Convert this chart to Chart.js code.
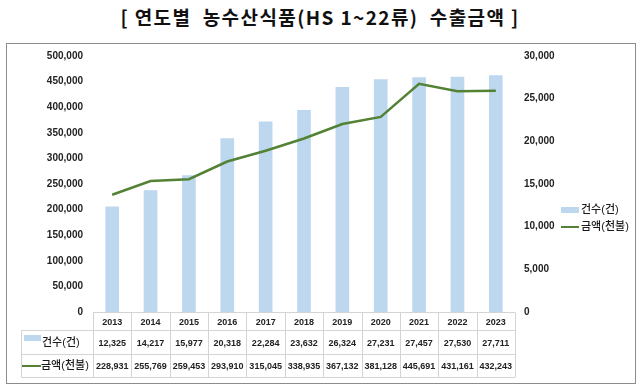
<!DOCTYPE html>
<html>
<head>
<meta charset="utf-8">
<script src="https://cdn.jsdelivr.net/npm/chart.js@4.4.1/dist/chart.umd.min.js"></script>
<style>
  body { margin: 0; background: #fff; }
  #title { position: absolute; left: 0; top: 3px; width: 640px; text-align: center;
           font: bold 19px "Noto Sans CJK KR", sans-serif; letter-spacing: 1.4px;
           white-space: pre; color: #111; }
  #box { position: absolute; left: 6px; top: 43px; width: 630px; height: 341px;
         box-sizing: border-box; border: 1px solid #8c8c8c; }
  canvas { position: absolute; left: 0; top: 0; }
</style>
</head>
<body>
<div id="title">[ 연도별  농수산식품(HS 1~22류)  수출금액 ]</div>
<div id="box"></div>
<canvas id="chart" width="640" height="388"></canvas>
<script>
// data
var years = ['2013', '2014', '2015', '2016', '2017', '2018', '2019', '2020', '2021', '2022', '2023'];
var counts = [12325, 14217, 15977, 20318, 22284, 23632, 26324, 27231, 27457, 27530, 27711];
var amounts = [228931, 255769, 259453, 293910, 315045, 338935, 367132, 381128, 445691, 431161, 432243];
var countLabel = '건수(건)';
var amountLabel = '금액(천불)';

// axis ranges
var amountMax = 500000, amountStep = 50000;
var countMax = 30000, countStep = 5000;

var BAR = '#bdd7ee';
var LINE = '#548235';
var FONT = '"Liberation Sans", "Noto Sans CJK KR", sans-serif';

function fmt(v) {
  return Number(v).toLocaleString('en-US');
}

// data table under the plot + legend on the right
var tablePlugin = {
  id: 'dataTable',
  afterDraw: function(chart) {
    var ctx = chart.ctx;
    var xs = chart.scales.x;
    var area = chart.chartArea;
    var colW = (area.right - area.left) / years.length;
    var top = Math.round(area.bottom) + 0.5;
    var r1 = 330.5, r2 = 354.5, r3 = 377.5, labelLeft = 21.5;

    ctx.save();
    ctx.strokeStyle = '#d4d4d4';
    ctx.lineWidth = 1;
    ctx.beginPath();
    ctx.moveTo(area.left, top); ctx.lineTo(area.right, top);
    [r1, r2, r3].forEach(function(y) {
      ctx.moveTo(labelLeft, y); ctx.lineTo(area.right, y);
    });
    ctx.moveTo(labelLeft, r1); ctx.lineTo(labelLeft, r3);
    for (var i = 0; i <= years.length; i++) {
      var bx = Math.round(area.left + i * colW) + 0.5;
      ctx.moveTo(bx, top); ctx.lineTo(bx, r3);
    }
    ctx.stroke();

    ctx.fillStyle = '#222';
    ctx.textAlign = 'center';
    ctx.textBaseline = 'middle';
    ctx.font = 'bold 9px ' + FONT;
    years.forEach(function(y, i) {
      var cx = xs.getPixelForValue(i);
      ctx.fillText(y, cx, (top + r1) / 2 + 1);
      ctx.fillText(fmt(counts[i]), cx, (r1 + r2) / 2 + 1);
      ctx.fillText(fmt(amounts[i]), cx, (r2 + r3) / 2 + 1);
    });

    // row labels with legend keys
    ctx.textAlign = 'left';
    ctx.font = '500 11px ' + FONT;
    ctx.fillStyle = BAR;
    ctx.fillRect(24, 335, 17, 6);
    ctx.fillStyle = LINE;
    ctx.fillRect(22, 365, 19, 2);
    ctx.fillStyle = '#1a1a1a';
    ctx.fillText(countLabel, 42, (r1 + r2) / 2);
    ctx.fillText(amountLabel, 41, (r2 + r3) / 2);

    // legend right
    ctx.fillStyle = BAR;
    ctx.fillRect(561, 207, 18, 6);
    ctx.fillStyle = LINE;
    ctx.fillRect(561, 226, 18, 2);
    ctx.fillStyle = '#1a1a1a';
    ctx.fillText(countLabel, 581, 210);
    ctx.fillText(amountLabel, 581, 227);
    ctx.restore();
  }
};

new Chart(document.getElementById('chart'), {
  type: 'bar',
  data: {
    labels: years,
    datasets: [{
      type: 'line',
      label: amountLabel,
      data: amounts,
      yAxisID: 'y',
      borderColor: LINE,
      backgroundColor: LINE,
      borderWidth: 2.5,
      pointRadius: 0,
      tension: 0,
      order: 0
    }, {
      type: 'bar',
      label: countLabel,
      data: counts,
      yAxisID: 'y1',
      backgroundColor: BAR,
      barThickness: 13,
      order: 1
    }]
  },
  options: {
    responsive: false,
    animation: false,
    devicePixelRatio: 1,
    layout: { padding: { top: 56, bottom: 76, left: 0, right: 0 } },
    plugins: {
      legend: { display: false },
      tooltip: { enabled: false }
    },
    scales: {
      x: { display: false },
      y: {
        position: 'left',
        min: 0, max: amountMax,
        grid: { display: false, drawTicks: false },
        border: { display: false },
        ticks: { stepSize: amountStep, padding: 10, color: '#222',
                 font: { family: FONT, size: 10, weight: 'bold' }, callback: fmt },
        afterFit: function(s) { s.width = 93; }
      },
      y1: {
        position: 'right',
        min: 0, max: countMax,
        grid: { display: false, drawTicks: false },
        border: { display: false },
        ticks: { stepSize: countStep, padding: 9, color: '#222',
                 font: { family: FONT, size: 10, weight: 'bold' }, callback: fmt },
        afterFit: function(s) { s.width = 125; }
      }
    }
  },
  plugins: [tablePlugin]
});
</script>
</body>
</html>
